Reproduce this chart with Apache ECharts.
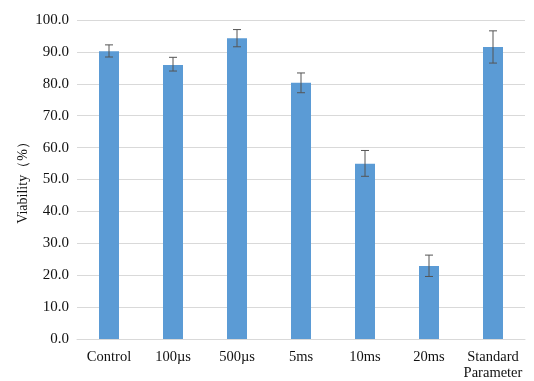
<!DOCTYPE html>
<html><head><meta charset="utf-8">
<script src="https://cdn.jsdelivr.net/npm/echarts@6/dist/echarts.min.js"></script>
<style>html,body{margin:0;padding:0;background:#fff}#c{width:534px;height:381px}</style>
</head><body><div id="c"></div>
<script>
const categories = ['Control', '100µs', '500µs', '5ms', '10ms', '20ms', 'Standard\nParameter'];
const viability = [90.2, 85.9, 94.3, 80.3, 54.9, 22.9, 91.5];
const errorLow = [88.4, 84.0, 91.6, 77.2, 51.0, 19.6, 86.5];
const errorHigh = [92.2, 88.3, 97.0, 83.4, 59.1, 26.3, 96.6];
const yTicks = [0, 10, 20, 30, 40, 50, 60, 70, 80, 90, 100];

const chart = echarts.init(document.getElementById('c'));
const font = 'Liberation Serif';
chart.setOption({
  animation: false,
  grid: { left: 77, right: 9, top: 20, bottom: 41 },
  xAxis: {
    type: 'category', data: categories,
    axisLine: { lineStyle: { color: '#d9d9d9' } },
    axisTick: { show: false },
    axisLabel: { color: '#111', fontFamily: font, fontSize: 14.5, margin: 10, lineHeight: 16, interval: 0 }
  },
  yAxis: {
    type: 'value', min: yTicks[0], max: yTicks[yTicks.length - 1], interval: 10,
    name: 'Viability（%）', nameLocation: 'middle', nameGap: 47, nameMoveOverlap: false,
    nameTextStyle: { color: '#111', fontFamily: font, fontSize: 14 },
    axisLine: { show: false }, axisTick: { show: false },
    splitLine: { lineStyle: { color: '#d9d9d9' } },
    axisLabel: { color: '#111', fontFamily: font, fontSize: 15, margin: 8, formatter: v => v.toFixed(1) }
  },
  series: [
    { type: 'bar', data: viability, barWidth: 20, itemStyle: { color: '#5b9bd5' } },
    {
      type: 'custom', z: 10,
      data: categories.map((c, i) => [i, errorLow[i], errorHigh[i]]),
      renderItem: function (params, api) {
        const lo = api.coord([api.value(0), api.value(1)]);
        const hi = api.coord([api.value(0), api.value(2)]);
        const w = 4;
        const st = { stroke: '#555', lineWidth: 1 };
        return { type: 'group', children: [
          { type: 'line', shape: { x1: hi[0], y1: hi[1], x2: lo[0], y2: lo[1] }, style: st },
          { type: 'line', shape: { x1: hi[0] - w, y1: hi[1], x2: hi[0] + w, y2: hi[1] }, style: st },
          { type: 'line', shape: { x1: lo[0] - w, y1: lo[1], x2: lo[0] + w, y2: lo[1] }, style: st }
        ]};
      }
    }
  ]
});
</script></body></html>
